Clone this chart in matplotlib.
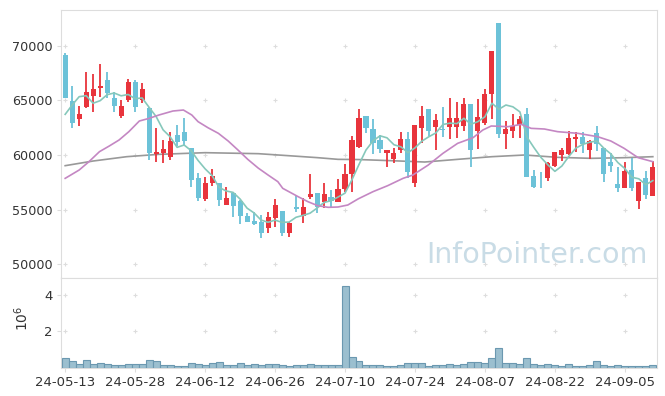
import numpy as np
import pandas as pd
import matplotlib
matplotlib.use("Agg")
import matplotlib.pyplot as plt

# daily candles, 2024-05-13 .. 2024-09-11 (trading days)
opens = [69149, 64940, 63324, 64422, 65428, 66160, 66862, 65214, 63598, 65062,
         66648, 65031, 64269, 60060, 60152, 59846, 61829, 62134, 60609, 57925,
         55973, 57468, 57407, 55424, 56492, 55790, 54418, 53960, 53899, 53289,
         54265, 54875, 52893, 55241, 54448, 56156, 56492, 55729, 56156, 55729,
         56858, 58260, 60762, 63568, 62378, 61371, 60212, 59633, 60456, 61463,
         57468, 62500, 64208, 62531, 62347, 62592, 62592, 62653, 64635, 62225,
         62957, 65550, 72107, 61951, 62225, 62744, 63751, 58078, 57925, 57864,
         59023, 60000, 60060, 61463, 61616, 60456, 61982, 60609, 59389, 57315,
         57010, 58626, 55790, 57864, 56278]
highs = [69302, 66312, 64483, 67563, 67380, 68295, 67624, 65733, 65031, 66923,
         66831, 66556, 64422, 62439, 61371, 62073, 62744, 63354, 60670, 58322,
         58017, 58687, 57407, 57102, 56644, 55882, 54662, 54814, 54509, 54814,
         55973, 54875, 53899, 56278, 56034, 58230, 56492, 57407, 56797, 57773,
         59145, 61738, 64177, 63568, 63293, 61829, 60456, 60670, 62073, 62073,
         62744, 64513, 64208, 63751, 64361, 65184, 64879, 65184, 64635, 65123,
         66038, 69515, 72107, 63110, 63720, 63598, 64269, 58626, 58474, 59389,
         60304, 60670, 62225, 62134, 62073, 61371, 62653, 60670, 60152, 58870,
         59389, 59694, 57498, 58535, 59480]
lows = [65184, 62439, 62683, 64330, 63903, 65275, 65184, 63903, 63354, 64879,
        63903, 64726, 59542, 59328, 59237, 59542, 60822, 60914, 57102, 55790,
        55790, 57193, 55363, 55424, 54357, 53655, 53838, 53594, 52374, 52832,
        53442, 52587, 52526, 54753, 53747, 55943, 54662, 55180, 55119, 55729,
        56644, 56644, 60609, 61982, 60060, 60152, 58870, 59298, 60152, 57864,
        57102, 61127, 61738, 60456, 61677, 61463, 61524, 62195, 58931, 60517,
        62744, 63293, 61585, 60548, 61524, 61585, 58017, 56949, 56949, 57651,
        58931, 59480, 60000, 60304, 60152, 59602, 60395, 57559, 58413, 56583,
        57010, 56705, 55058, 55943, 56278]
closes = [65184, 62957, 63751, 65764, 66038, 66343, 65703, 64513, 64483, 66648,
          64422, 66038, 60212, 60274, 60548, 61280, 61188, 61280, 57712, 56034,
          57468, 58078, 55882, 56095, 55363, 54448, 53899, 53686, 52832, 54357,
          55424, 52893, 53808, 55028, 55211, 56431, 55211, 56400, 55821, 56888,
          58230, 61371, 63354, 62439, 61066, 60548, 60456, 60182, 61463, 58413,
          62744, 63568, 62195, 63202, 62256, 63354, 63354, 64635, 60456, 63476,
          65580, 69515, 61920, 62378, 62653, 63263, 58017, 57102, 57864, 59237,
          60304, 60456, 61524, 61616, 60975, 61310, 60975, 58230, 59023, 57010,
          58565, 57010, 57498, 56339, 58870]
prev_closes = [58687, 59941, 65304, 69484]  # 4 days before the window (for MA5)
volume = [0.545, 0.40, 0.24, 0.44, 0.24, 0.27, 0.22, 0.18, 0.18, 0.22,
          0.22, 0.22, 0.44, 0.40, 0.18, 0.18, 0.13, 0.13, 0.27, 0.22,
          0.18, 0.27, 0.33, 0.18, 0.18, 0.27, 0.18, 0.22, 0.18, 0.22,
          0.22, 0.18, 0.13, 0.16, 0.16, 0.22, 0.18, 0.18, 0.18, 0.18,
          4.49, 0.60, 0.38, 0.18, 0.18, 0.18, 0.11, 0.11, 0.18, 0.27,
          0.27, 0.27, 0.13, 0.18, 0.18, 0.22, 0.18, 0.22, 0.33, 0.33,
          0.27, 0.55, 1.09, 0.27, 0.27, 0.22, 0.55, 0.22, 0.18, 0.22,
          0.18, 0.11, 0.22, 0.11, 0.11, 0.18, 0.38, 0.18, 0.11, 0.18,
          0.11, 0.11, 0.11, 0.11, 0.18]  # millions

# MA20 / long MA (x = candle index)
ma20_x = [0, 2, 3.4, 4.9, 6.3, 7.7, 9.1, 10.6, 12, 13.4, 15.4, 16.9, 18.1, 19, 20.4,
          21.9, 23.3, 24.7, 26.1, 27.6, 29, 30.4, 31.1, 33.3, 34.7, 36.1, 37.6, 39,
          40.4, 41.9, 44, 46.1, 48.3, 49.7, 51.9, 54, 56.1, 58.3, 59.7, 60.9, 63.3,
          65.2, 66.6, 68.5, 70.4, 73.3, 76.1, 78, 79.9, 81.9, 84]
ma20_y = [57864, 58626, 59389, 60304, 60822, 61371, 62134, 63110, 63354, 63659, 64025,
          64116, 63659, 63049, 62500, 61982, 61280, 60456, 59602, 58800, 58169, 57559,
          56949, 56186, 55729, 55363, 55211, 55241, 55424, 55990, 56644, 57193, 57864,
          58169, 59084, 60152, 61066, 61585, 62286, 62653, 62592, 62805, 62439, 62378,
          62134, 61982, 61677, 61280, 60609, 59755, 59389]
mal_x = [0, 4, 8.8, 13.4, 20, 27.6, 31.9, 36.1, 39, 41.9, 46.6, 51.4, 56.1, 61, 65.7,
         70.4, 75.2, 80, 84]
mal_y = [59023, 59450, 59846, 60060, 60212, 60121, 59938, 59755, 59602, 59585, 59480,
         59358, 59602, 59846, 60000, 59785, 59694, 59755, 59846]

tick_idx = [0, 10, 20, 30, 40, 50, 60, 70, 80]
tick_labels = ['24-05-13', '24-05-28', '24-06-12', '24-06-26', '24-07-10',
               '24-07-24', '24-08-07', '24-08-22', '24-09-05']

up_col = '#e8343c'
down_col = '#6cc2d8'
frame_col = '#dddddd'
txt_col = '#333333'

fig = plt.figure(figsize=(6.65, 3.96), dpi=100)
ax = fig.add_axes([0.0917, 0.298, 0.8963, 0.6767])
axv = fig.add_axes([0.0917, 0.0707, 0.8963, 0.2273], sharex=ax)

n = len(closes)
x = np.arange(n)
o = np.array(opens); c = np.array(closes)
h = np.array(highs); l = np.array(lows)
cols = [up_col if c[i] >= o[i] else down_col for i in range(n)]

ax.vlines(x, l, h, colors=cols, linewidth=1.3, zorder=3)
ax.bar(x, np.abs(c - o), bottom=np.minimum(o, c), width=0.72, color=cols, zorder=4)

ma5 = pd.Series(prev_closes + closes).rolling(5).mean().values[len(prev_closes):]
ax.plot(x, ma5, color='#86c8bb', lw=1.2, zorder=5)
ax.plot(ma20_x, ma20_y, color='#c487c3', lw=1.2, zorder=5)
ax.plot(mal_x, mal_y, color='#999999', lw=1.2, zorder=2)

ax.set_xlim(-0.6, 84.6)
ax.set_ylim(48745, 73267)
yt = [50000, 55000, 60000, 65000, 70000]
ax.set_yticks(yt)
ax.set_yticklabels([str(v) for v in yt])
gx, gy = np.meshgrid(tick_idx, yt)
ax.scatter(gx.ravel(), gy.ravel(), marker='+', s=10, color='#dddddd', linewidths=0.8, zorder=1)

ax.text(0.985, 0.085, 'InfoPointer.com', transform=ax.transAxes, ha='right', va='center',
        fontsize=20.5, color='#c9dce6', zorder=6)

axv.bar(x, volume, width=1.0, color='#9bbfcf', edgecolor='#6b98b0', linewidth=0.8, zorder=3)
axv.set_ylim(0, 4.93)
axv.set_yticks([2, 4])
axv.set_yticklabels(['2', '4'])
gx2, gy2 = np.meshgrid(tick_idx, [2, 4])
axv.scatter(gx2.ravel(), gy2.ravel(), marker='+', s=10, color='#dddddd', linewidths=0.8, zorder=1)
axv.set_ylabel('$10^6$', fontsize=10, color=txt_col)
axv.yaxis.set_label_coords(-0.05, 0.55)

axv.set_xticks(tick_idx)
axv.set_xticklabels(tick_labels)
plt.setp(ax.get_xticklabels(), visible=False)

for a in (ax, axv):
    for s in a.spines.values():
        s.set_color(frame_col)
    a.tick_params(axis='both', length=3, color=frame_col, labelcolor=txt_col, labelsize=9.5, pad=3)
ax.tick_params(axis='x', length=0)
ax.tick_params(axis='y', labelsize=9.2)
axv.tick_params(axis='y', labelsize=9.5)

fig.savefig('out.png', dpi=100)
